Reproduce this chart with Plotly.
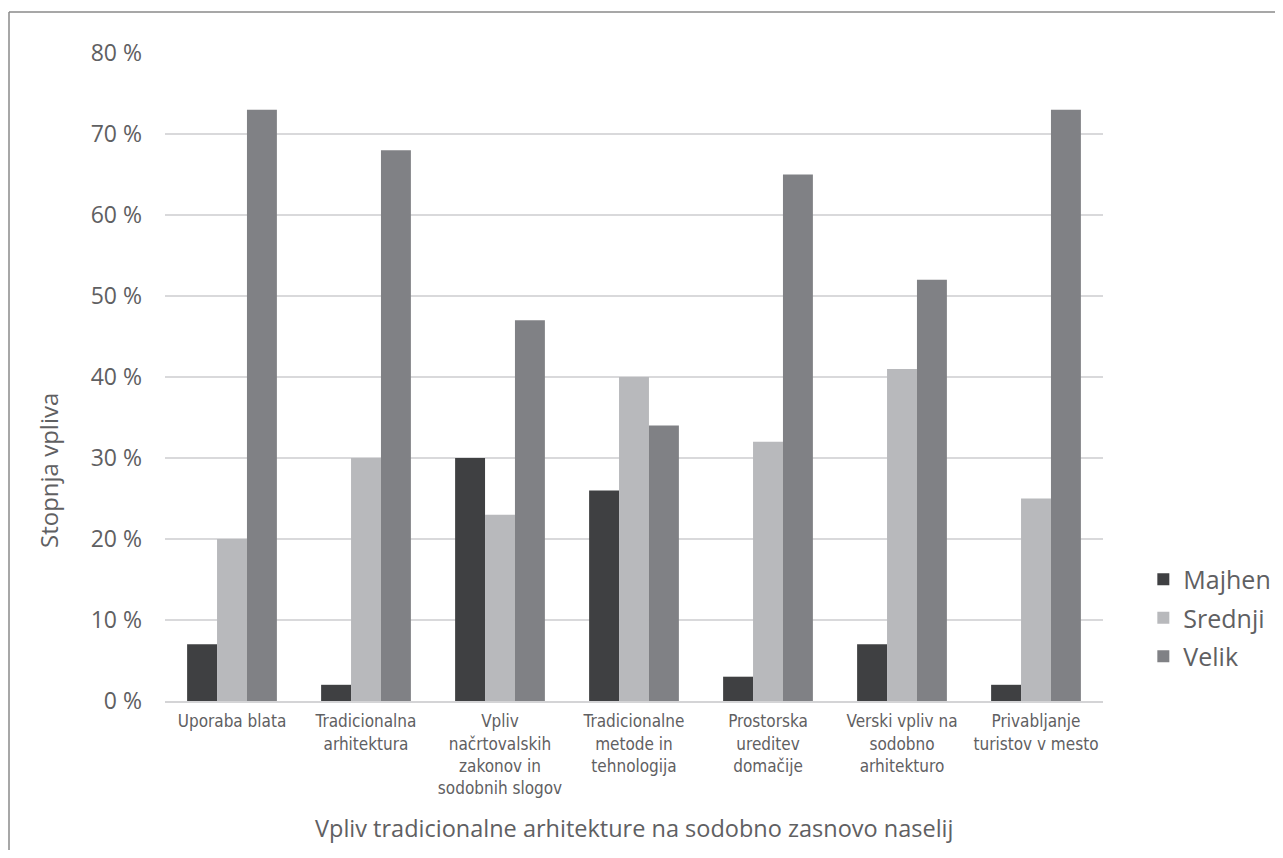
import plotly.graph_objects as go

categories = [
    "Uporaba blata",
    "Tradicionalna<br>arhitektura",
    "Vpliv<br>načrtovalskih<br>zakonov in<br>sodobnih slogov",
    "Tradicionalne<br>metode in<br>tehnologija",
    "Prostorska<br>ureditev<br>domačije",
    "Verski vpliv na<br>sodobno<br>arhitekturo",
    "Privabljanje<br>turistov v mesto",
]
majhen = [7, 2, 30, 26, 3, 7, 2]
srednji = [20, 30, 23, 40, 32, 41, 25]
velik = [73, 68, 47, 34, 65, 52, 73]
series_names = ["Majhen", "Srednji", "Velik"]
colors = ["#3f4042", "#b8b9bc", "#808185"]

x_title = "Vpliv tradicionalne arhitekture na sodobno zasnovo naselij"
y_title = "Stopnja vpliva"

fig = go.Figure()
for name, vals, col in zip(series_names, [majhen, srednji, velik], colors):
    fig.add_trace(go.Bar(x=categories, y=vals, name=name, legendgroup=name,
                         marker=dict(color=col, line=dict(width=0))))

font_main = "Open Sans, sans-serif"
font_cond = "DejaVu Sans Condensed, Liberation Sans Narrow, Open Sans, sans-serif"
txt = "#5f6062"

# page coordinates (browser adds 8px body margin)
W, H = 1267, 842
L, R, T, B = 157, 172, 45, 149

fig.update_layout(
    width=W, height=H,
    paper_bgcolor="white", plot_bgcolor="white",
    margin=dict(l=L, r=R, t=T, b=B, pad=0, autoexpand=False),
    barmode="group", bargap=0.33, bargroupgap=0,
    font=dict(family=font_main, color=txt),
    showlegend=True,
    legend=dict(x=1.043, y=0.128, xanchor="left", yanchor="middle",
                font=dict(size=25, color=txt, family=font_main),
                itemwidth=30, tracegroupgap=3, bgcolor="rgba(0,0,0,0)"),
    xaxis=dict(
        showgrid=False, showline=True, linecolor="#d4d4d6", linewidth=2,
        ticks="", tickfont=dict(size=17, color=txt, family=font_cond),
        ticklabelstandoff=4,
        automargin=False,
    ),
    yaxis=dict(
        range=[0, 80], dtick=10, ticksuffix=" %",
        showgrid=True, gridcolor="#d9d9db", gridwidth=1.5,
        zeroline=False, showline=False,
        tickfont=dict(size=23, color=txt, family=font_main),
        ticklabelstandoff=22,
        automargin=False,
    ),
    annotations=[
        dict(text=x_title, xref="paper", yref="paper", x=0.5, y=(701 - 828) / 648,
             xanchor="center", yanchor="middle", showarrow=False,
             font=dict(size=23.5, color=txt, family=font_main)),
        dict(text=y_title, xref="paper", yref="paper", x=(48 - 165) / 938,
             y=(701 - 471) / 648, xanchor="center", yanchor="middle",
             textangle=-90, showarrow=False,
             font=dict(size=24, color=txt, family=font_main)),
    ],
)

# outer frame (top and left border of the figure box)
fx0 = (9 - 165) / 938
fy0 = (701 - 12) / 648
fig.add_shape(type="line", xref="paper", yref="paper",
              x0=fx0, x1=1.3, y0=fy0, y1=fy0,
              line=dict(color="#8a8a8a", width=1.5))
fig.add_shape(type="line", xref="paper", yref="paper",
              x0=fx0, x1=fx0, y0=fy0, y1=-0.4,
              line=dict(color="#8a8a8a", width=1.5))

fig.write_html("out.html")
